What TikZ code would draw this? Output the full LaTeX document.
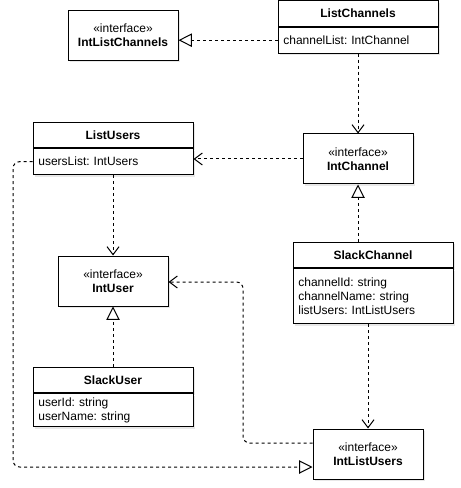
\documentclass[tikz,border=0pt]{standalone}
\usepackage{fontspec}
\setmainfont{Liberation Sans}
\usetikzlibrary{arrows.meta,positioning,shadows}
\frenchspacing

\tikzset{
	box/.style={draw, fill=white, line width=0.75pt, inner sep=0pt,
		drop shadow={shadow xshift=1.2pt, shadow yshift=-1.5pt, opacity=0.18}},
	iface/.style={box, minimum width=82.5pt, minimum height=37.5pt, align=center},
	clshead/.style={box, minimum width=120pt, minimum height=19pt, font=\fontsize{9}{10.5}\selectfont\bfseries},
	clsbody/.style={box, minimum width=120pt, text width=112pt, inner xsep=4pt, align=left, anchor=north},
	dep/.style={line width=0.75pt, dash pattern=on 2.25pt off 2.25pt, -{Straight Barb[length=6pt, width=9pt]}},
	real/.style={line width=0.75pt, dash pattern=on 2.25pt off 2.25pt, -{Triangle[open, fill=white, length=10pt, width=10pt]}},
}

\begin{document}
\begin{tikzpicture}[x=0.75pt, y=-0.75pt, font=\fontsize{9}{10.5}\selectfont]
			%%%%% START %%%%%
			\useasboundingbox (0,0) rectangle (460,488);
			
			\node[iface] (ilc) at (123, 35.5) {«interface»\\\textbf{IntListChannels}};
			\node[iface] (ich) at (358, 159) {«interface»\\\textbf{IntChannel}};
			\node[iface] (iu) at (113, 281) {«interface»\\\textbf{IntUser}};
			\node[iface] (ilu) at (368, 454) {«interface»\\\textbf{IntListUsers}};
			
			\node[clshead] (lchead) at (358, 13.5) {ListChannels};
			\node[clsbody, minimum height=19.5pt] (lcbody) at (lchead.south) {channelList: IntChannel};
			
			\node[clshead] (luhead) at (113, 135) {ListUsers};
			\node[clsbody, minimum height=19.5pt] (lubody) at (luhead.south) {usersList: IntUsers};
			
			\node[clshead] (schead) at (373, 255) {SlackChannel};
			\node[clsbody, minimum height=41.25pt] (scbody) at (schead.south) {channelId: string\\channelName: string\\listUsers: IntListUsers};
			
			\node[clshead] (suhead) at (113, 380) {SlackUser};
			\node[clsbody, minimum height=24.75pt] (subody) at (suhead.south) {userId: string\\userName: string};
			
			\coordinate (bendA) at (243, 282);
			\coordinate (bendB) at (243, 443);
			\coordinate (bendC) at (13, 467);
			
			\draw[real] (lcbody.west) -- (ilc.east |- lcbody.west);
			\draw[dep] (lcbody.south) -- (ich.north);
			\draw[dep] (ich.west) -- (lubody.east |- ich.west);
			\draw[dep] (lubody.south) -- (iu.north);
			\draw[real] (ich.south |- schead.north) -- (ich.south);
			\draw[real] (suhead.north) -- (iu.south);
			\draw[dep] (ilu.north |- scbody.south) -- (ilu.north);
			\draw[dep, rounded corners=5pt] (ilu.west |- bendB) -- (bendB) -- (bendA) -- (iu.east |- bendA);
			\draw[real, rounded corners=5pt] (lubody.west) -| (bendC) -- (ilu.west |- bendC);
			
			%%%%% END %%%%%
\end{tikzpicture}
\end{document}
